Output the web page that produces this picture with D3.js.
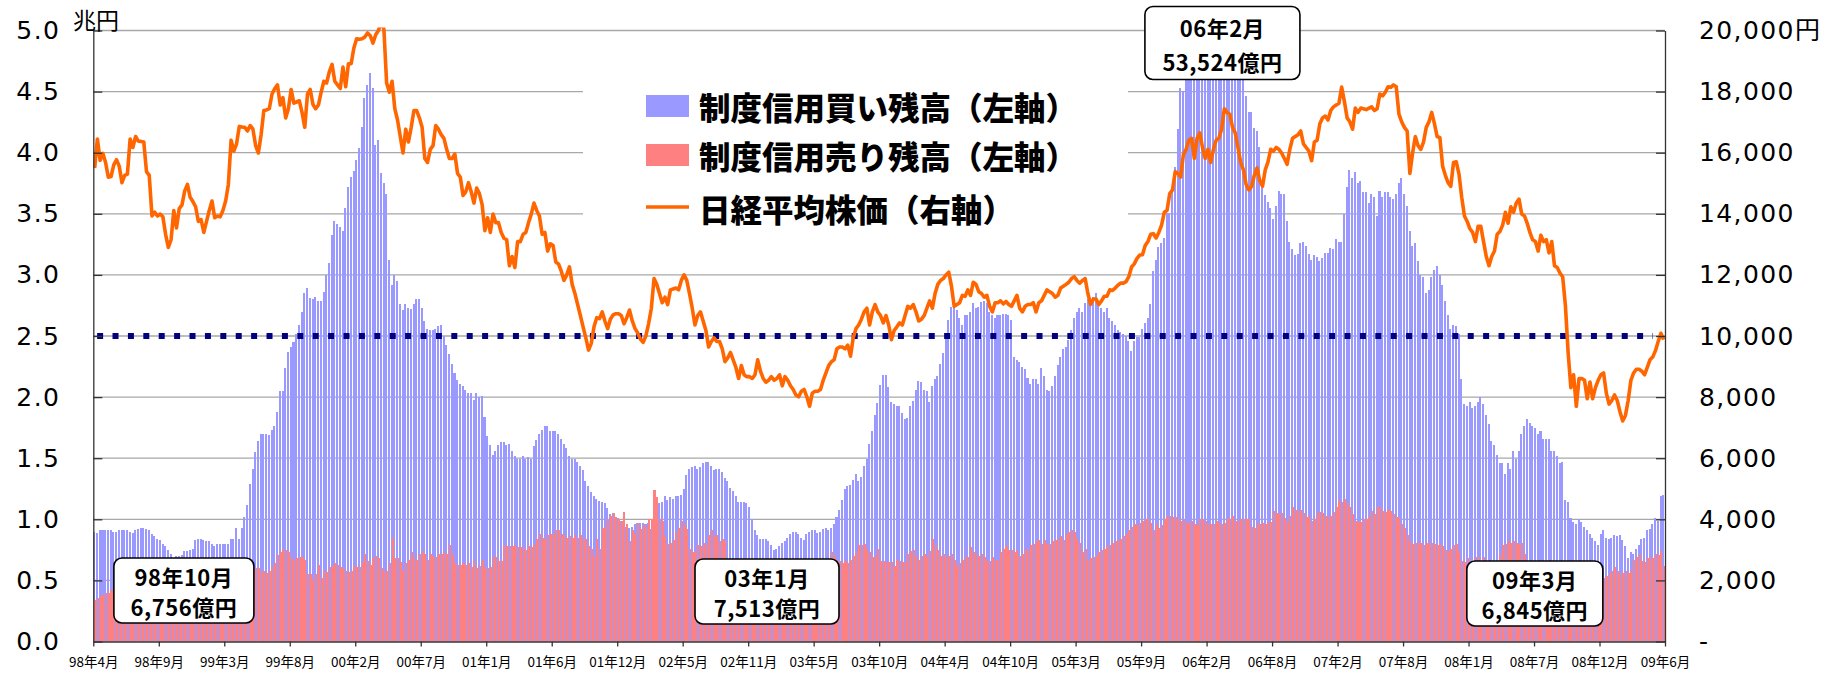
<!DOCTYPE html>
<html>
<head>
<meta charset="utf-8">
<script src="https://cdn.jsdelivr.net/npm/d3@7"></script>
<style>
  body { margin: 0; background: #fff; }
</style>
</head>
<body>
<script>
// tick labels on the category axis, one every 24 weeks
var xLabels = ["98年4月","98年9月","99年3月","99年8月","00年2月","00年7月","01年1月","01年6月",
  "01年12月","02年5月","02年11月","03年5月","03年10月","04年4月","04年10月","05年3月","05年9月",
  "06年2月","06年8月","07年2月","07年8月","08年1月","08年7月","08年12月","09年6月"];

// weekly margin buying balance (trillion yen)
var buyBalance = [
  0.90,0.89,0.91,0.91,0.91,0.91,0.91,0.90,0.90,0.91,0.91,0.91,0.91,0.90,0.89,0.91,0.92,0.93,0.93,0.92,0.91,0.88,0.86,0.84,
  0.83,0.80,0.78,0.75,0.72,0.68,0.70,0.70,0.71,0.74,0.74,0.75,0.76,0.83,0.84,0.84,0.83,0.82,0.82,0.80,0.78,0.80,0.80,0.80,
  0.80,0.80,0.84,0.84,0.93,0.84,0.93,1.02,1.12,1.29,1.41,1.55,1.64,1.70,1.70,1.70,1.69,1.73,1.76,1.88,2.05,2.05,2.24,2.37,
  2.41,2.45,2.52,2.59,2.70,2.85,2.89,2.81,2.80,2.82,2.79,2.79,2.86,3.00,3.10,3.33,3.44,3.42,3.39,3.36,3.55,3.72,3.80,3.85,
  3.94,4.04,4.21,4.45,4.55,4.65,4.53,4.06,4.10,3.83,3.75,3.66,3.12,2.92,3.00,2.95,2.76,2.71,2.76,2.73,2.72,2.76,2.80,2.80,
  2.73,2.62,2.56,2.55,2.55,2.56,2.58,2.59,2.50,2.43,2.35,2.27,2.20,2.14,2.11,2.09,2.06,2.03,2.03,1.98,2.03,2.00,2.01,1.84,
  1.68,1.61,1.53,1.56,1.61,1.63,1.63,1.61,1.62,1.56,1.52,1.49,1.49,1.52,1.49,1.51,1.49,1.60,1.65,1.70,1.73,1.76,1.76,1.72,
  1.72,1.72,1.70,1.66,1.62,1.58,1.52,1.49,1.49,1.47,1.44,1.40,1.31,1.27,1.22,1.19,1.17,1.15,1.14,1.13,1.09,1.04,1.05,1.02,
  1.01,0.99,0.96,0.94,0.93,0.94,0.96,0.97,0.97,0.97,0.96,0.97,0.92,1.15,1.10,1.13,1.14,1.19,1.16,1.18,1.17,1.19,1.19,1.20,
  1.25,1.36,1.41,1.43,1.44,1.41,1.43,1.46,1.47,1.47,1.44,1.40,1.41,1.41,1.39,1.34,1.31,1.26,1.23,1.19,1.14,1.14,1.14,1.13,
  1.10,1.00,0.91,0.87,0.84,0.84,0.84,0.82,0.79,0.75,0.76,0.78,0.81,0.82,0.85,0.88,0.90,0.90,0.88,0.85,0.83,0.88,0.90,0.91,
  0.91,0.89,0.90,0.92,0.93,0.91,0.93,0.96,1.02,1.08,1.16,1.25,1.27,1.28,1.32,1.37,1.31,1.35,1.44,1.49,1.62,1.72,1.85,1.95,
  2.10,2.18,2.18,2.08,1.96,1.94,1.93,1.93,1.87,1.82,1.83,1.93,1.97,2.06,2.13,2.12,2.06,2.05,1.96,2.09,2.15,2.17,2.27,2.36,
  2.49,2.63,2.74,2.74,2.71,2.65,2.59,2.67,2.67,2.70,2.77,2.73,2.74,2.78,2.79,2.77,2.70,2.67,2.65,2.67,2.67,2.68,2.68,2.67,
  2.63,2.33,2.30,2.29,2.25,2.23,2.16,2.11,2.15,2.15,2.11,2.24,2.17,2.06,2.05,2.09,2.17,2.26,2.33,2.39,2.41,2.47,2.55,2.65,
  2.70,2.73,2.70,2.77,2.80,2.77,2.82,2.85,2.79,2.73,2.70,2.73,2.65,2.62,2.59,2.55,2.53,2.52,2.50,2.46,2.38,2.46,2.49,2.49,
  2.56,2.61,2.65,2.76,3.03,3.12,3.23,3.26,3.30,3.51,3.51,3.68,3.88,4.19,4.53,4.50,4.85,4.95,5.05,5.10,5.15,5.20,5.25,5.30,
  5.35,5.30,5.25,5.20,5.15,5.10,5.05,5.00,4.95,4.90,4.85,4.80,4.75,4.65,4.46,4.33,4.33,4.20,4.18,4.05,3.75,3.65,3.60,3.55,
  3.46,3.56,3.69,3.66,3.66,3.44,3.27,3.21,3.16,3.17,3.26,3.27,3.24,3.17,3.12,3.16,3.15,3.11,3.14,3.18,3.18,3.22,3.21,3.29,
  3.27,3.27,3.50,3.72,3.86,3.79,3.84,3.75,3.77,3.68,3.68,3.59,3.66,3.64,3.48,3.69,3.64,3.68,3.68,3.64,3.62,3.66,3.75,3.79,
  3.66,3.56,3.36,3.24,3.26,3.11,3.00,2.98,2.85,2.88,2.98,3.04,3.07,3.00,2.92,2.79,2.67,2.56,2.59,2.58,2.52,2.15,1.94,1.93,
  1.96,1.91,1.93,1.96,2.00,1.94,1.85,1.78,1.64,1.61,1.53,1.46,1.46,1.37,1.46,1.41,1.56,1.49,1.56,1.70,1.76,1.82,1.79,1.76,
  1.75,1.70,1.72,1.66,1.66,1.66,1.56,1.56,1.52,1.46,1.47,1.16,1.14,1.01,0.98,0.96,1.00,0.98,0.94,0.91,0.88,0.85,0.82,0.79,
  0.88,0.91,0.85,0.84,0.85,0.87,0.86,0.87,0.83,0.78,0.68,0.73,0.72,0.76,0.79,0.84,0.85,0.91,0.92,0.96,1.01,0.99,1.19,1.20
];

// weekly margin selling balance (trillion yen)
var sellBalance = [
  0.34,0.36,0.37,0.38,0.40,0.40,0.42,0.50,0.48,0.47,0.46,0.46,0.47,0.48,0.49,0.50,0.52,0.53,0.52,0.50,0.49,0.47,0.46,0.47,
  0.48,0.50,0.52,0.54,0.55,0.55,0.56,0.57,0.56,0.55,0.55,0.56,0.57,0.58,0.58,0.57,0.56,0.56,0.57,0.58,0.58,0.59,0.60,0.60,
  0.61,0.61,0.62,0.62,0.62,0.61,0.60,0.60,0.60,0.61,0.60,0.60,0.60,0.58,0.58,0.56,0.58,0.61,0.64,0.71,0.73,0.76,0.75,0.73,
  0.69,0.67,0.68,0.69,0.69,0.67,0.55,0.55,0.51,0.55,0.63,0.52,0.58,0.57,0.61,0.62,0.64,0.63,0.61,0.60,0.58,0.57,0.58,0.63,
  0.61,0.61,0.65,0.72,0.66,0.63,0.68,0.70,0.68,0.60,0.58,0.58,0.64,0.85,0.68,0.68,0.65,0.58,0.64,0.67,0.73,0.68,0.67,0.72,
  0.73,0.72,0.67,0.72,0.70,0.69,0.72,0.72,0.73,0.72,0.79,0.72,0.64,0.63,0.63,0.64,0.63,0.64,0.61,0.66,0.60,0.62,0.67,0.61,
  0.60,0.61,0.69,0.69,0.66,0.66,0.79,0.78,0.78,0.78,0.79,0.77,0.77,0.77,0.75,0.78,0.77,0.80,0.84,0.88,0.85,0.84,0.87,0.88,
  0.88,0.91,0.91,0.88,0.87,0.85,0.86,0.85,0.87,0.85,0.87,0.84,0.84,0.78,0.76,0.70,0.84,0.76,0.93,0.94,1.00,1.03,1.05,1.02,
  1.00,0.99,1.06,0.96,0.82,0.91,0.88,0.97,0.92,0.95,0.94,1.00,1.00,1.24,1.18,1.00,0.99,0.86,0.80,0.81,0.83,0.90,0.93,0.99,
  0.95,0.92,0.76,0.73,0.73,0.79,0.78,0.81,0.79,0.87,0.91,0.86,0.87,0.82,0.84,0.82,0.62,0.60,0.61,0.63,0.62,0.60,0.59,0.60,
  0.62,0.61,0.60,0.59,0.60,0.61,0.60,0.58,0.57,0.58,0.59,0.60,0.61,0.62,0.61,0.60,0.61,0.62,0.63,0.62,0.61,0.62,0.63,0.64,
  0.63,0.62,0.63,0.64,0.65,0.66,0.73,0.70,0.67,0.66,0.64,0.66,0.64,0.67,0.70,0.73,0.79,0.79,0.80,0.76,0.73,0.69,0.70,0.76,
  0.66,0.66,0.65,0.65,0.65,0.62,0.67,0.66,0.65,0.65,0.72,0.74,0.75,0.70,0.67,0.70,0.72,0.69,0.74,0.84,0.79,0.75,0.70,0.72,
  0.69,0.70,0.72,0.67,0.62,0.64,0.67,0.69,0.69,0.77,0.73,0.72,0.70,0.72,0.69,0.66,0.66,0.69,0.67,0.67,0.73,0.76,0.78,0.75,
  0.75,0.73,0.75,0.70,0.72,0.75,0.76,0.79,0.80,0.82,0.83,0.80,0.83,0.80,0.80,0.82,0.83,0.84,0.86,0.83,0.88,0.90,0.91,0.90,
  0.85,0.81,0.73,0.76,0.67,0.68,0.69,0.70,0.73,0.75,0.76,0.78,0.79,0.81,0.82,0.83,0.84,0.86,0.88,0.91,0.94,0.96,0.95,0.97,
  0.99,1.00,1.00,0.97,0.91,0.96,0.93,0.95,1.00,1.02,1.03,1.02,1.02,1.00,0.99,1.00,0.97,0.97,0.99,0.96,0.95,1.00,1.00,0.99,
  0.96,0.96,0.96,0.99,0.97,0.96,0.97,1.01,1.00,1.03,0.99,0.99,1.00,1.00,1.00,1.00,0.94,0.93,0.97,0.96,0.97,0.96,0.98,0.98,
  1.07,1.05,1.04,1.05,1.01,0.98,1.03,1.10,1.08,1.07,1.08,1.05,1.02,1.03,0.99,1.00,1.05,1.06,1.05,1.03,1.02,1.03,1.06,1.10,
  1.16,1.14,1.17,1.13,1.10,1.04,0.99,0.98,0.98,1.00,1.00,1.02,1.07,1.04,1.10,1.10,1.07,1.06,1.08,1.07,1.04,1.02,1.01,0.96,
  0.93,0.87,0.82,0.80,0.81,0.81,0.81,0.79,0.81,0.81,0.81,0.80,0.79,0.80,0.78,0.75,0.74,0.76,0.79,0.80,0.74,0.66,0.65,0.68,
  0.64,0.65,0.69,0.68,0.65,0.69,0.65,0.64,0.65,0.64,0.66,0.72,0.79,0.80,0.82,0.81,0.82,0.81,0.80,0.81,0.72,0.64,0.62,0.61,
  0.60,0.61,0.62,0.60,0.59,0.60,0.61,0.60,0.58,0.59,0.60,0.56,0.54,0.52,0.53,0.55,0.56,0.54,0.53,0.52,0.53,0.54,0.55,0.53,
  0.52,0.52,0.54,0.55,0.58,0.61,0.58,0.55,0.56,0.58,0.56,0.58,0.67,0.69,0.72,0.66,0.65,0.68,0.69,0.68,0.72,0.71,0.74,0.62
];

// weekly Nikkei average (yen)
var nikkei = [
  15500,16450,15750,15980,15680,15200,15220,15600,15770,15560,15020,15260,15300,16450,16170,16530,16380,16370,16350,15380,15260,13930,14050,13930,
  13990,13900,13330,12900,13150,14110,13540,14170,14290,14750,14960,14540,14400,14230,13750,13810,13390,13750,14110,14420,13870,13930,13900,14110,
  14420,14960,16410,16050,16290,16860,16840,16830,16710,16890,16770,16230,15990,16590,17380,17400,17440,17920,18100,18220,17560,17800,17140,17440,
  18070,17620,17660,17700,17320,16830,17920,18070,17580,17440,17560,17980,18340,18280,18650,18890,18340,18220,18100,18800,18160,18910,18910,19430,
  19730,19710,19730,19790,19920,19830,19590,19860,20000,20300,20040,18280,17980,18340,17440,17070,16530,15990,16770,16350,16830,17380,17380,17140,
  16830,15810,15680,16110,16230,16890,16770,16590,16470,16110,15810,15810,15960,15320,15200,14600,14720,15020,14720,14350,14840,14660,14300,13450,
  13870,13390,13990,13710,13710,13390,13200,13150,12300,12600,12240,13090,13090,13330,13390,13710,13990,14350,14110,13930,13330,13390,12780,13020,
  12960,12420,12360,12120,11820,12000,12260,11690,11390,11030,10670,10300,9940,9540,9760,10300,10600,10570,10790,10490,10240,10550,10690,10730,
  10730,10670,10400,10600,10850,10500,10250,10100,9900,9790,10000,10400,10900,11880,11690,11390,11090,11270,11030,11510,11540,11570,11510,11820,
  12000,11820,11390,10910,10360,10670,10790,10490,10180,9640,9820,9940,9820,9820,9580,9160,9280,9460,9220,8970,8610,9030,8730,8670,
  8670,8610,8730,9220,8850,8610,8490,8550,8670,8550,8610,8730,8370,8670,8550,8370,8250,8070,8010,8190,8250,8010,7700,8130,
  8190,8190,8250,8550,8790,9030,9160,9220,9580,9640,9640,9580,9700,9340,9940,10240,10360,10550,10790,10910,10360,10790,11030,10790,
  10670,10430,10670,10360,9880,10180,10300,10430,10360,10670,10970,10910,11030,10790,10490,10550,10670,10910,11150,10910,11390,11690,11820,11880,
  12000,12090,11630,10970,11030,11090,11330,11300,11510,11330,11760,11690,11450,11390,11270,11330,10970,10790,11090,11090,11150,11050,11130,11030,
  10970,11150,11330,10910,10790,10970,11030,11030,11090,10790,11090,11150,11330,11510,11450,11390,11270,11330,11570,11630,11690,11760,11880,11940,
  11820,11730,11820,11880,11390,11030,11210,11210,11030,11150,11300,11300,11510,11490,11570,11660,11730,11730,11780,11940,12260,12360,12540,12650,
  12660,12960,13090,13330,13350,13210,13390,13630,14050,14110,14660,14780,15380,15320,15200,15930,16110,16410,16470,15810,16470,16650,16170,15810,
  16110,15680,16110,16410,16470,16770,17440,17320,17260,16830,16650,16170,15680,15440,14960,14780,14900,15260,15500,15080,14900,15440,15700,16110,
  16050,16170,16110,15990,15810,15620,16110,16470,16530,16590,16710,16290,16170,16050,15740,16350,16410,16950,17140,17200,17070,17380,17500,17560,
  17620,18150,17680,17140,17010,16770,17460,17320,17460,17440,17410,17460,17500,17380,17440,17920,17860,17980,18160,18140,18220,18160,17260,17010,
  16830,16710,15320,15990,16530,16230,16110,16350,16830,17010,17320,16950,16530,16490,15560,15260,15020,14900,15680,15700,15300,14540,13930,13750,
  13510,13390,13090,13590,13590,13090,12600,12300,12600,12780,13330,13420,13630,14050,13690,14230,14050,14350,14480,13990,13930,13690,13390,13150,
  13090,12780,13300,13090,13150,12720,13090,12300,12240,12060,11940,11000,9460,8310,8730,7700,8610,8610,8550,7950,8490,7950,8310,8550,
  8730,8790,8130,7770,7890,8070,7890,7520,7220,7400,7890,8550,8790,8910,8910,8850,8730,8970,9220,9310,9520,9820,10090,9880
];

var leftTicks = [0,0.5,1,1.5,2,2.5,3,3.5,4,4.5,5];
var rightTicks = [0,2000,4000,6000,8000,10000,12000,14000,16000,18000,20000];
var refLevel = 10000; // dotted reference line (right axis)

var seriesNames = ["制度信用買い残高（左軸）","制度信用売り残高（左軸）","日経平均株価（右軸）"];
var noteTitles = ["98年10月","03年1月","06年2月","09年3月"];
var noteValues = ["6,756億円","7,513億円","53,524億円","6,845億円"];

window.onload = function(){
  var w = 1841, h = 673;
  var left = 93.3, right = 1665, top = 30.5, bottom = 641.5;
  var n = buyBalance.length;
  var blue = "#9999ff", pink = "#ff8080", orange = "#ff6600", navy = "#000080";

  var svg = d3.select("body").append("svg")
    .attr("width", w)
    .attr("height", h)
    .style("background-color", "#fff");

  var x = d3.scaleLinear().domain([0, n]).range([left, right]);
  var yL = d3.scaleLinear().domain([0, 5]).range([bottom, top]);
  var yR = d3.scaleLinear().domain([0, 20000]).range([bottom, top]);
  var bw = x(1) - x(0);

  svg.append("clipPath").attr("id", "plot")
    .append("rect").attr("x", left).attr("y", top - 3).attr("width", right - left).attr("height", bottom - top + 3);
  svg.append("clipPath").attr("id", "bars")
    .append("rect").attr("x", left).attr("y", top).attr("width", right - left).attr("height", bottom - top);

  // gridlines
  svg.append("g").selectAll("line")
    .data(leftTicks.filter(function(d){ return d > 0; }))
    .enter().append("line")
    .attr("x1", left).attr("x2", right)
    .attr("y1", function(d){ return yL(d); })
    .attr("y2", function(d){ return yL(d); })
    .attr("stroke", "#a8a8a8")
    .attr("stroke-width", 1.3);

  // legend background (hides the gridlines behind it)
  svg.append("rect")
    .attr("x", 583).attr("y", 45).attr("width", 545).attr("height", 192)
    .style("fill", "#fff");

  var bars = svg.append("g").attr("clip-path", "url(#bars)").attr("shape-rendering", "crispEdges");
  bars.selectAll("rect.buy")
    .data(buyBalance)
    .enter().append("rect")
    .attr("class", "buy")
    .attr("x", function(d, i){ return x(i); })
    .attr("width", bw * 0.74)
    .attr("y", function(d){ return yL(d); })
    .attr("height", function(d){ return bottom - yL(d); })
    .style("fill", blue);
  bars.selectAll("rect.sell")
    .data(sellBalance)
    .enter().append("rect")
    .attr("class", "sell")
    .attr("x", function(d, i){ return x(i) + bw * 0.3; })
    .attr("width", bw * 0.74)
    .attr("y", function(d){ return yL(d); })
    .attr("height", function(d){ return bottom - yL(d); })
    .style("fill", pink);

  // dotted reference line at 10,000
  svg.append("line")
    .attr("x1", x(1.4)).attr("x2", x(571.6))
    .attr("y1", yR(refLevel)).attr("y2", yR(refLevel))
    .attr("stroke", navy)
    .attr("stroke-width", 6)
    .attr("stroke-dasharray", "6 9.4");

  // Nikkei line
  var line = d3.line()
    .x(function(d, i){ return x(i + 0.5); })
    .y(function(d){ return yR(d); });
  svg.append("path")
    .datum(nikkei)
    .attr("clip-path", "url(#plot)")
    .attr("d", line)
    .attr("fill", "none")
    .attr("stroke", orange)
    .attr("stroke-width", 3.6)
    .attr("stroke-linejoin", "round");

  // axes
  var numFont = "'DejaVu Sans','Noto Sans CJK JP',sans-serif";
  var gl = svg.append("g").attr("transform", "translate(" + left + ",0)")
    .call(d3.axisLeft(yL).tickValues(leftTicks).tickSizeInner(-9).tickSizeOuter(0).tickPadding(33)
      .tickFormat(d3.format(".1f")));
  var gr = svg.append("g").attr("transform", "translate(" + right + ",0)")
    .call(d3.axisRight(yR).tickValues(rightTicks).tickSizeInner(-9).tickSizeOuter(0).tickPadding(34)
      .tickFormat(function(d){ return d === 0 ? "-" : d === 20000 ? d3.format(",")(d) + "円" : d3.format(",")(d); }));
  var gb = svg.append("g").attr("transform", "translate(0," + bottom + ")")
    .call(d3.axisBottom(x).tickValues(d3.range(0, n + 1, 24)).tickSizeInner(5).tickSizeOuter(0).tickPadding(11)
      .tickFormat(function(d, i){ return xLabels[i]; }));

  [gl, gr, gb].forEach(function(g){
    g.select(".domain").attr("stroke", "#333").attr("stroke-width", 1.3);
    g.selectAll(".tick line").attr("stroke", "#333").attr("stroke-width", 1.3);
  });
  gl.selectAll("text").style("font-family", numFont).style("font-size", "25px")
    .style("letter-spacing", "1.4px").attr("fill", "#000");
  gr.selectAll("text").style("font-family", numFont).style("font-size", "25px")
    .style("letter-spacing", "1.4px").attr("fill", "#000");
  gb.selectAll("text").style("font-family", "'Noto Sans CJK JP',sans-serif").style("font-size", "13.5px")
    .attr("fill", "#000");

  svg.append("text")
    .attr("x", 73).attr("y", 29)
    .style("font-family", "'Noto Sans CJK JP',sans-serif")
    .style("font-size", "23px")
    .text("兆円");

  // legend
  var lg = svg.append("g").attr("transform", "translate(646,0)");
  lg.append("rect").attr("x", 0).attr("y", 95).attr("width", 43).attr("height", 22).style("fill", blue);
  lg.append("rect").attr("x", 0).attr("y", 144).attr("width", 43).attr("height", 22).style("fill", pink);
  lg.append("line").attr("x1", 0).attr("x2", 43).attr("y1", 207).attr("y2", 207)
    .attr("stroke", orange).attr("stroke-width", 3.6);
  lg.selectAll("text")
    .data(seriesNames)
    .enter().append("text")
    .attr("x", 53)
    .attr("y", function(d, i){ return [106, 155, 208][i]; })
    .attr("dominant-baseline", "central")
    .style("font-family", "'Noto Sans CJK JP',sans-serif")
    .style("font-weight", "900")
    .style("font-size", "31.5px")
    .text(function(d){ return d; });

  // annotation boxes, each with a two-line label
  var boxes = [
    {at: 33.2, y: 558, w: 140, h: 65},
    {at: 246.9, y: 559, w: 144, h: 65},
    {at: 413.8, y: 6.5, w: 155, h: 73},
    {at: 528.3, y: 561, w: 136, h: 65}
  ];
  var nb = svg.append("g").selectAll("g")
    .data(boxes)
    .enter().append("g");
  nb.append("rect")
    .attr("x", function(d){ return x(d.at) - d.w / 2; })
    .attr("y", function(d){ return d.y; })
    .attr("width", function(d){ return d.w; })
    .attr("height", function(d){ return d.h; })
    .attr("rx", 8).attr("ry", 8)
    .style("fill", "#fff")
    .attr("stroke", "#000")
    .attr("stroke-width", 1.6);
  var nt = nb.append("text")
    .attr("text-anchor", "middle")
    .style("font-family", "'Noto Sans CJK JP',sans-serif")
    .style("font-weight", "bold")
    .style("font-size", "22px")
    .style("letter-spacing", "0.5px");
  nt.append("tspan")
    .attr("x", function(d){ return x(d.at); })
    .attr("y", function(d){ return d.y + d.h * 0.31 + 8; })
    .text(function(d, i){ return noteTitles[i]; });
  nt.append("tspan")
    .attr("x", function(d){ return x(d.at); })
    .attr("y", function(d){ return d.y + d.h * 0.77 + 8; })
    .text(function(d, i){ return noteValues[i]; });
};
</script>
</body>
</html>
